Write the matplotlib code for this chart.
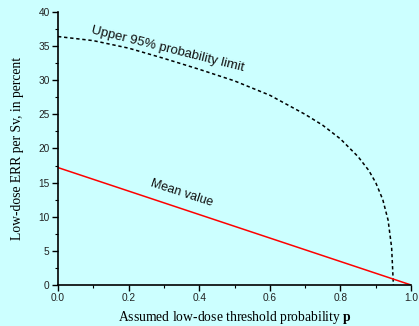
import numpy as np
import matplotlib
matplotlib.use("Agg")
from matplotlib import pyplot as plt
from matplotlib.ticker import MultipleLocator

plt.rcParams['mathtext.fontset'] = 'custom'
plt.rcParams['mathtext.rm'] = 'Liberation Serif'
plt.rcParams['mathtext.bf'] = 'Liberation Serif:bold'

# data
p_upper = [0.0, 0.1, 0.2, 0.3, 0.4, 0.5, 0.6, 0.7, 0.75, 0.8, 0.85, 0.88, 0.9, 0.92, 0.935, 0.945, 0.95]
err_upper = [36.4, 35.8, 34.7, 33.2, 31.6, 29.9, 27.8, 25.0, 23.4, 21.4, 18.8, 16.8, 15.0, 12.5, 9.5, 5.5, 0.0]
p_mean = [0.0, 1.0]
err_mean = [17.2, 0.0]

bg = "#ccffff"

fig = plt.figure(figsize=(4.19, 3.26), dpi=100, facecolor=bg)
ax = fig.add_axes([0.1384, 0.1258, 0.8426, 0.8375], facecolor=bg)

ax.plot(p_upper, err_upper, color="black", lw=1.1, linestyle=(0, (2.2, 1.8)))
ax.plot(p_mean, err_mean, color="red", lw=1.1)

ax.set_xlim(0, 1.0)
ax.set_ylim(0, 40)
ax.xaxis.set_major_locator(MultipleLocator(0.2))
ax.xaxis.set_minor_locator(MultipleLocator(0.1))
ax.yaxis.set_major_locator(MultipleLocator(5))
ax.yaxis.set_minor_locator(MultipleLocator(2.5))

for s in ["top", "right"]:
    ax.spines[s].set_visible(False)
for s in ["left", "bottom"]:
    ax.spines[s].set_linewidth(1.2)

ax.tick_params(which="major", direction="out", length=4, width=1, labelsize=7.3,
               labelcolor="#222222", pad=2)
ax.tick_params(which="minor", direction="out", length=2.5, width=0.8)
for lab in ax.get_xticklabels() + ax.get_yticklabels():
    lab.set_family("Liberation Sans")

ax.set_xlabel("Assumed low-dose threshold probability $\\mathbf{p}$",
              family="Liberation Serif", fontsize=9.8, labelpad=4)
ax.set_ylabel("Low-dose ERR per Sv, in percent",
              family="Liberation Serif", fontsize=9.8, labelpad=10)

ax.text(0.31, 34.5, "Upper 95% probability limit", family="Liberation Sans",
        fontsize=9.5, rotation=-14, ha="center", va="center", color="#111111")
ax.text(0.35, 13.4, "Mean value", family="Liberation Sans",
        fontsize=9, rotation=-18, ha="center", va="center", color="#111111")

fig.savefig("out.png", dpi=100, facecolor=bg)
